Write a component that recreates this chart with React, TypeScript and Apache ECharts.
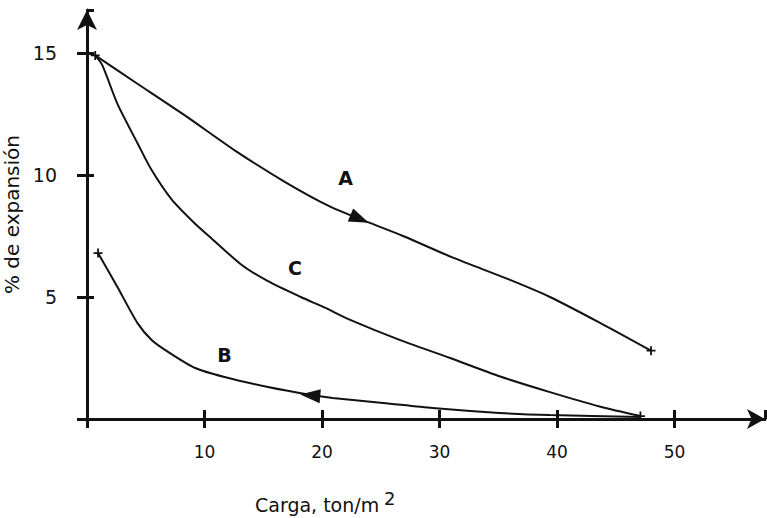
import React, { useEffect, useRef } from "react";
import * as echarts from "echarts";

// Carga (ton/m2) and % de expansión
const curveAX = [0.7, 4.1, 8.3, 12.6, 16.9, 20.7, 23.2, 26.9, 31.2, 36.0, 39.4, 43.7, 48.0];
const curveAY = [14.9, 13.8, 12.45, 11.0, 9.7, 8.7, 8.2, 7.5, 6.6, 5.7, 5.0, 3.93, 2.8];

const curveCX = [0.7, 1.3, 2.6, 4.3, 5.5, 7.2, 9.2, 10.6, 13.2, 15.4, 18.2, 20.3, 22.4, 26.6, 30.9, 35.1, 39.4, 43.7, 47.1];
const curveCY = [14.9, 14.5, 12.9, 11.3, 10.2, 9.0, 8.0, 7.4, 6.3, 5.65, 5.0, 4.55, 4.06, 3.24, 2.5, 1.75, 1.1, 0.5, 0.12];

const curveBX = [0.94, 2.6, 4.3, 5.5, 6.9, 9.2, 11.7, 15.4, 19.1, 20.9, 25.2, 29.4, 35.1, 39.4, 47.1];
const curveBY = [6.8, 5.4, 3.93, 3.24, 2.75, 2.09, 1.72, 1.31, 0.98, 0.86, 0.66, 0.45, 0.25, 0.16, 0.08];

const curveLabels = ["A", "C", "B"];
const labelX = [22.0, 17.7, 11.7];
const labelY = [9.88, 6.19, 2.62];

// direction arrows on curves A and B
const arrowX = [23.2, 19.0];
const arrowY = [8.2, 0.97];
const arrowRotate = [-113, 85];

const xTicks = [0, 10, 20, 30, 40, 50];
const yTicks = [0, 5, 10, 15];
const xMax = 57.7;
const yMax = 16.76;

const xName = "Carga, ton/m";
const xNameSup = "2";
const yName = "% de expansión";

const zip = (xs: number[], ys: number[]) => xs.map((x, i) => [x, ys[i]]);

const FONT = "DejaVu Sans";
const INK = "#111111";

export default function App() {
  const ref = useRef<HTMLDivElement>(null);
  useEffect(() => {
    if (!ref.current) return;
    const chart = echarts.init(ref.current, null, { renderer: "svg" });
    const endPoints = [
      [curveAX[0], curveAY[0]],
      [curveBX[0], curveBY[0]],
      [curveAX[curveAX.length - 1], curveAY[curveAY.length - 1]],
      [curveCX[curveCX.length - 1], curveCY[curveCY.length - 1]],
    ];
    const baseX = {
      type: "value" as const,
      min: 0,
      max: xMax,
      interval: 10,
      splitLine: { show: false },
    };
    const baseY = {
      type: "value" as const,
      min: 0,
      max: yMax,
      interval: 5,
      splitLine: { show: false },
    };
    const lineStyle = { color: INK, width: 2 };
    chart.setOption({
      animation: false,
      backgroundColor: "#ffffff",
      grid: {
        left: 87,
        right: 2,
        top: 10,
        bottom: 99,
        containLabel: false,
        outerBoundsMode: "none",
      },
      xAxis: [
        {
          ...baseX,
          axisLine: {
            show: true,
            lineStyle: { color: INK, width: 3 },
            symbol: ["none", "arrow"],
            symbolSize: [15, 18],
          },
          axisTick: { show: true, inside: false, length: 9, lineStyle: { color: INK, width: 3 } },
          axisLabel: {
            margin: 24,
            color: INK,
            fontFamily: FONT,
            fontSize: 17,
            showMaxLabel: false,
            formatter: (v: number) => (v === 0 || !xTicks.includes(v) ? "" : String(v)),
          },
        },
        {
          ...baseX,
          position: "bottom",
          axisLine: { show: false },
          axisTick: { show: true, inside: true, length: 9, lineStyle: { color: INK, width: 3 } },
          axisLabel: { show: false },
        },
      ],
      yAxis: [
        {
          ...baseY,
          name: yName,
          nameLocation: "middle",
          nameGap: 54,
          nameTextStyle: { fontFamily: FONT, fontSize: 20, color: INK },
          axisLine: {
            show: true,
            lineStyle: { color: INK, width: 3 },
            symbol: ["none", "arrow"],
            symbolSize: [15, 20],
          },
          axisTick: { show: true, inside: false, length: 10, lineStyle: { color: INK, width: 3 } },
          axisLabel: {
            margin: 30,
            color: INK,
            fontFamily: FONT,
            fontSize: 19,
            showMaxLabel: false,
            formatter: (v: number) => (v === 0 || !yTicks.includes(v) ? "" : String(v)),
          },
        },
        {
          ...baseY,
          position: "left",
          axisLine: { show: false },
          axisTick: { show: true, inside: true, length: 7, lineStyle: { color: INK, width: 3 } },
          axisLabel: { show: false },
        },
      ],
      graphic: [
        {
          type: "text",
          left: 255,
          top: 495,
          style: { text: xName, fontFamily: FONT, fontSize: 19, fill: INK },
        },
        {
          type: "text",
          left: 384,
          top: 489,
          style: { text: xNameSup, fontFamily: FONT, fontSize: 18, fill: INK },
        },
      ],
      series: [
        {
          type: "line",
          data: zip(curveAX, curveAY),
          smooth: 0.25,
          showSymbol: false,
          lineStyle,
        },
        {
          type: "line",
          data: zip(curveCX, curveCY),
          smooth: 0.25,
          showSymbol: false,
          lineStyle,
        },
        {
          type: "line",
          data: zip(curveBX, curveBY),
          smooth: 0.25,
          showSymbol: false,
          lineStyle,
        },
        {
          type: "scatter",
          data: arrowX.map((x, i) => ({ value: [x, arrowY[i]], symbolRotate: arrowRotate[i] })),
          symbol: "triangle",
          symbolSize: [14, 20],
          itemStyle: { color: INK, opacity: 1 },
          z: 5,
        },
        {
          type: "scatter",
          data: endPoints,
          symbol: "path://M4 0H6V4H10V6H6V10H4V6H0V4H4Z",
          symbolSize: 9,
          itemStyle: { color: INK, opacity: 1 },
        },
        {
          type: "scatter",
          data: curveLabels.map((n, i) => ({ name: n, value: [labelX[i], labelY[i]] })),
          symbolSize: 0,
          itemStyle: { color: INK, opacity: 1 },
          label: {
            show: true,
            position: "inside",
            formatter: (p: any) => p.name,
            fontFamily: FONT,
            fontSize: 19,
            fontWeight: "bold",
            color: INK,
            opacity: 1,
            textBorderWidth: 0,
          },
        },
      ],
    });
    return () => chart.dispose();
  }, []);
  return (
    <div
      ref={ref}
      style={{ position: "fixed", left: 0, top: 0, width: 767, height: 518, background: "#fff" }}
    />
  );
}
